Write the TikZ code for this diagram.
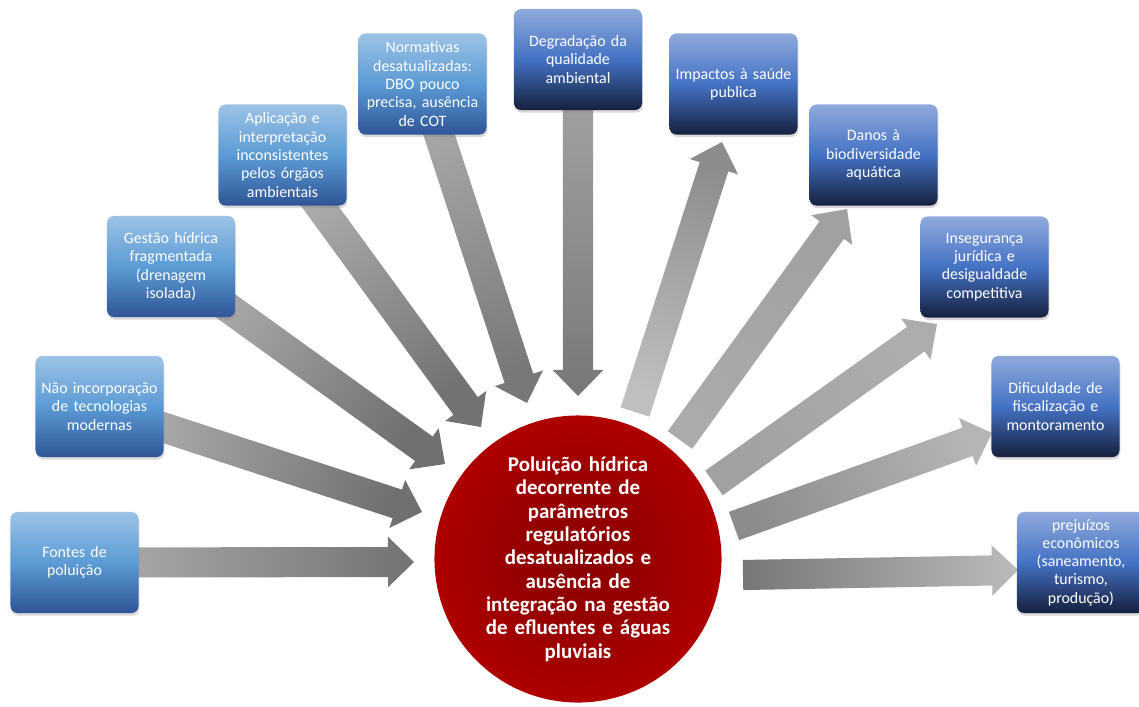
\documentclass[tikz,border=0pt]{standalone}
\usepackage{fontspec}
\setmainfont{Carlito}
\usepackage{tikz}
\usetikzlibrary{calc,shadows,backgrounds}
\usepackage{xcolor}

\definecolor{causatopo}{RGB}{157,195,230}
\definecolor{causameio}{RGB}{91,155,213}
\definecolor{causabase}{RGB}{47,85,151}
\definecolor{efeitotopo}{RGB}{143,170,220}
\definecolor{efeitomeio}{RGB}{68,114,196}
\definecolor{efeitobase}{RGB}{22,32,62}
\definecolor{vermelho}{RGB}{194,0,0}
\definecolor{vermelhoescuro}{RGB}{138,0,0}

\pgfdeclareradialshading{nucleo}{\pgfpoint{0bp}{0bp}}{%
  color(0bp)=(vermelhoescuro); color(14bp)=(vermelhoescuro!70!vermelho);
  color(36bp)=(vermelho); color(50bp)=(vermelho)}

% block arrow: #1 tail, #2 tip, #3 tail colour, #4 tip colour
\newcommand{\setabloco}[4]{%
  \pgfmathanglebetweenpoints{\pgfpointanchor{#1}{center}}{\pgfpointanchor{#2}{center}}%
  \pgfmathsetmacro{\angulo}{\pgfmathresult+90}%
  \coordinate (base) at ($(#2)!18.5pt!(#1)$);
  \shade[left color=#3, right color=#4, shading angle=\angulo]
    ($(#1)!10.7pt!90:(#2)$) -- ($(base)!10.7pt!90:(#2)$) -- ($(base)!18pt!90:(#2)$)
    -- (#2) -- ($(base)!18pt!-90:(#2)$) -- ($(base)!10.7pt!-90:(#2)$)
    -- ($(#1)!10.7pt!-90:(#2)$) -- cycle;
}

\begin{document}
\begin{tikzpicture}[x=0.025cm,y=-0.025cm]
\tikzset{
    caixa/.style={%
        rectangle,
        rounded corners=5pt,
        minimum width=3.2cm,
        minimum height=2.525cm,
        text width=3.05cm,
        inner sep=1pt,
        align=center,
        text=white,
        font=\fontsize{11.3}{13}\selectfont,
        drop shadow={opacity=0.3, shadow xshift=0.6pt, shadow yshift=-1.8pt}
        },
    causa/.style={%
        caixa,
        top color=causatopo, bottom color=causabase, middle color=causameio
        },
    efeito/.style={%
        caixa,
        top color=efeitotopo, bottom color=efeitobase, middle color=efeitomeio
        },
    problema/.style={%
        circle,
        shading=nucleo,
        inner sep=0pt,
        minimum size=7.175cm,
        text width=4.7cm,
        align=center,
        text=white,
        font=\fontsize{14.9}{16.6}\selectfont\bfseries
        },
}
\useasboundingbox (0,0) rectangle (1139,706);
%%%PROBLEM
\node[problema] (poluicao) at (578,559) {Poluição hídrica\\decorrente de\\parâmetros\\regulatórios\\desatualizados e\\ausência de\\integração na gestão\\de efluentes e águas\\pluviais};
%%%CAUSES
\node[causa] (fontes)      at (74.5,562.5) {Fontes de\\poluição};
\node[causa] (tecnologias) at (99.5,406.5) {Não incorporação\\de tecnologias\\modernas};
\node[causa] (gestao)      at (171,266.5)  {Gestão hídrica\\fragmentada\\(drenagem\\isolada)};
\node[causa] (aplicacao)   at (282.5,155)  {Aplicação e\\interpretação\\inconsistentes\\pelos órgãos\\ambientais};
\node[causa] (normativas)  at (422.5,84)   {Normativas\\desatualizadas:\\DBO pouco\\precisa, ausência\\de COT};
%%%EFFECTS
\node[efeito] (degradacao)   at (578,59.5)   {Degradação da\\qualidade\\ambiental};
\node[efeito] (saude)        at (733.5,84)   {Impactos à saúde\\publica};
\node[efeito] (danos)        at (873.5,155)  {Danos à\\biodiversidade\\aquática};
\node[efeito] (inseguranca)  at (984.5,267)  {Insegurança\\jurídica e\\desigualdade\\competitiva};
\node[efeito] (fiscalizacao) at (1055.5,406.5) {Dificuldade de\\fiscalização e\\montoramento};
\node[efeito] (prejuizos)    at (1081,562.5) {prejuízos\\econômicos\\(saneamento,\\turismo,\\produção)};
%%%ARROW ENDS
\coordinate (p-fontes)      at (414,562);
\coordinate (p-tecnologias) at (422,512);
\coordinate (p-gestao)      at (445,464);
\coordinate (p-aplicacao)   at (481,427);
\coordinate (p-normativas)  at (527,403);
\coordinate (p-degradacao)  at (578,396);
%
\coordinate (s-saude)        at (635,412);
\coordinate (s-danos)        at (680,440);
\coordinate (s-inseguranca)  at (714,483);
\coordinate (s-fiscalizacao) at (734,526);
\coordinate (s-prejuizos)    at (743,575);
\coordinate (e-saude)        at (722,142);
\coordinate (e-danos)        at (847,209);
\coordinate (e-inseguranca)  at (937,324);
\coordinate (e-fiscalizacao) at (992,433);
\coordinate (e-prejuizos)    at (1018,570);
%%%ARROWS
\begin{scope}[on background layer]
\setabloco{fontes}{p-fontes}{black!31}{black!55}
\setabloco{tecnologias}{p-tecnologias}{black!31}{black!56}
\setabloco{gestao}{p-gestao}{black!31}{black!56}
\setabloco{aplicacao}{p-aplicacao}{black!31}{black!55}
\setabloco{normativas}{p-normativas}{black!33}{black!53}
\setabloco{degradacao}{p-degradacao}{black!35}{black!53}
%
\setabloco{s-saude}{e-saude}{black!25}{black!45}
\setabloco{s-danos}{e-danos}{black!33}{black!37}
\setabloco{s-inseguranca}{e-inseguranca}{black!37}{black!32}
\setabloco{s-fiscalizacao}{e-fiscalizacao}{black!45}{black!29}
\setabloco{s-prejuizos}{e-prejuizos}{black!53}{black!27}
\end{scope}
\end{tikzpicture}
\end{document}
